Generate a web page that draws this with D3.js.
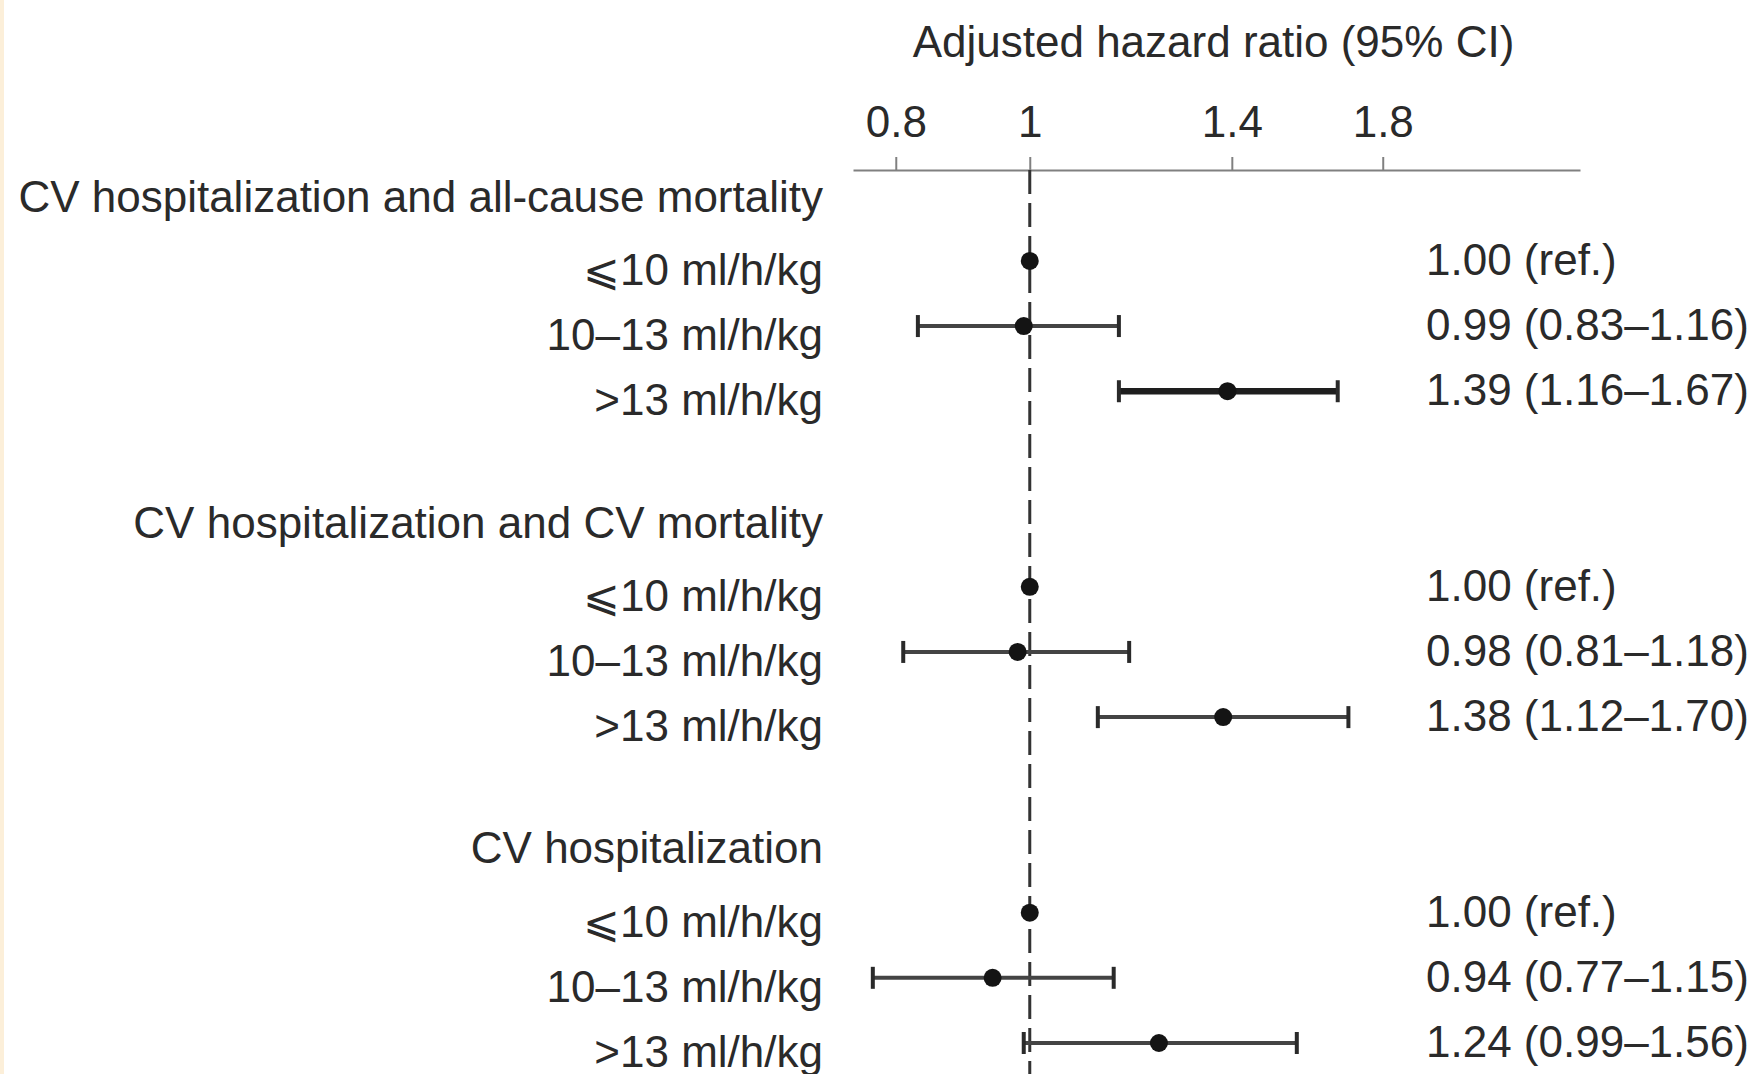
<!DOCTYPE html>
<html>
<head>
<meta charset="utf-8">
<script src="https://cdn.jsdelivr.net/npm/d3@7/dist/d3.min.js"></script>
<style>
  html, body { margin: 0; padding: 0; background: #ffffff; }
  svg { display: block; }
  text { font-family: "Liberation Sans", Arial, Helvetica, sans-serif; fill: #2a2a2a; }
</style>
</head>
<body>
<svg id="chart" width="1756" height="1074"></svg>
<script>
// Outcome groups and dialysate ultrafiltration-rate strata
const groups = [
  "CV hospitalization and all-cause mortality",
  "CV hospitalization and CV mortality",
  "CV hospitalization"
];
const strata = ["\u2A7D10 ml/h/kg", "10\u201313 ml/h/kg", ">13 ml/h/kg"];

// Adjusted hazard ratios, one row per group, one entry per stratum
const hazardRatio = [
  [1.00, 0.99, 1.39],
  [1.00, 0.98, 1.38],
  [1.00, 0.94, 1.24]
];
const ciLower = [
  [null, 0.83, 1.16],
  [null, 0.81, 1.12],
  [null, 0.77, 0.99]
];
const ciUpper = [
  [null, 1.16, 1.67],
  [null, 1.18, 1.70],
  [null, 1.15, 1.56]
];

const tickValues = [0.8, 1, 1.4, 1.8];
const tickLabels = ["0.8", "1", "1.4", "1.8"];
const axisTitle = "Adjusted hazard ratio (95% CI)";

// ---- layout ----
const svg = d3.select("#chart");
const W = 1756, H = 1074;
const FONT = 44;
const ink = "#2a2a2a";

// pale strip on the left edge of the page
svg.append("rect").attr("x", 0).attr("y", 0).attr("width", 4).attr("height", H)
  .attr("fill", "#fcefd9");

const x = d3.scaleLog().domain([0.745, 2.5]).range([853, 1580]);

// each group takes a header slot, three stratum slots and one blank slot
const slotsPerGroup = 5;
const y = d3.scaleLinear().domain([0, 13]).range([195.7, 1043]);

const rows = [];
groups.forEach((g, gi) => {
  strata.forEach((s, si) => {
    rows.push({
      group: gi, stratum: si, label: s,
      hr: hazardRatio[gi][si], lo: ciLower[gi][si], hi: ciUpper[gi][si],
      slot: gi * slotsPerGroup + si + 1
    });
  });
});

const axisY = 170;
const labelRight = 823;
const valueLeft = 1426;

// axis title
svg.append("text")
  .attr("x", 1213.5).attr("y", 57)
  .attr("text-anchor", "middle")
  .attr("font-size", FONT)
  .text(axisTitle);

// top axis
const axis = d3.axisTop(x)
  .tickValues(tickValues)
  .tickFormat((d, i) => tickLabels[i])
  .tickSize(13)
  .tickSizeOuter(0)
  .tickPadding(20);

const gAxis = svg.append("g").attr("transform", `translate(0,${axisY})`).call(axis);
gAxis.select(".domain").attr("stroke", "#808080").attr("stroke-width", 2.2);
gAxis.selectAll(".tick line").attr("stroke", "#808080").attr("stroke-width", 2);
gAxis.selectAll(".tick text")
  .attr("font-size", FONT)
  .attr("font-family", "Liberation Sans, Arial, sans-serif")
  .attr("fill", ink);

// reference line at HR = 1
svg.append("line")
  .attr("x1", x(1)).attr("x2", x(1))
  .attr("y1", axisY).attr("y2", H)
  .attr("stroke", "#333333")
  .attr("stroke-width", 3)
  .attr("stroke-dasharray", "24,9");

// group headers
svg.selectAll("text.header")
  .data(groups)
  .join("text")
  .attr("class", "header")
  .attr("x", labelRight)
  .attr("y", (d, i) => y(i * slotsPerGroup) + 16)
  .attr("text-anchor", "end")
  .attr("font-size", FONT)
  .text(d => d);

// stratum labels
svg.selectAll("text.stratum")
  .data(rows)
  .join("text")
  .attr("class", "stratum")
  .attr("x", labelRight)
  .attr("y", d => y(d.slot) + 24)
  .attr("text-anchor", "end")
  .attr("font-size", FONT)
  .text(d => d.label);

// confidence intervals
const ciRows = rows.filter(d => d.lo != null);
const strong = d => d.group === 0 && d.stratum === 2;

svg.selectAll("line.ci")
  .data(ciRows)
  .join("line")
  .attr("class", "ci")
  .attr("x1", d => x(d.lo)).attr("x2", d => x(d.hi))
  .attr("y1", d => y(d.slot)).attr("y2", d => y(d.slot))
  .attr("stroke", d => strong(d) ? "#1e1e1e" : "#444444")
  .attr("stroke-width", d => strong(d) ? 6.5 : 4);

// whisker caps
const caps = [];
ciRows.forEach(d => { caps.push({ v: d.lo, r: d }); caps.push({ v: d.hi, r: d }); });
svg.selectAll("line.cap")
  .data(caps)
  .join("line")
  .attr("class", "cap")
  .attr("x1", d => x(d.v)).attr("x2", d => x(d.v))
  .attr("y1", d => y(d.r.slot) - 11).attr("y2", d => y(d.r.slot) + 11)
  .attr("stroke", "#2a2a2a")
  .attr("stroke-width", 4);

// point estimates
svg.selectAll("circle.est")
  .data(rows)
  .join("circle")
  .attr("class", "est")
  .attr("cx", d => x(d.hr))
  .attr("cy", d => y(d.slot))
  .attr("r", 9)
  .attr("fill", "#141414");

// value column
const f2 = d3.format(".2f");
svg.selectAll("text.value")
  .data(rows)
  .join("text")
  .attr("class", "value")
  .attr("x", valueLeft)
  .attr("y", d => y(d.slot) + 14)
  .attr("font-size", FONT)
  .text(d => d.lo == null
    ? `${f2(d.hr)} (ref.)`
    : `${f2(d.hr)} (${f2(d.lo)}\u2013${f2(d.hi)})`);
</script>
</body>
</html>
